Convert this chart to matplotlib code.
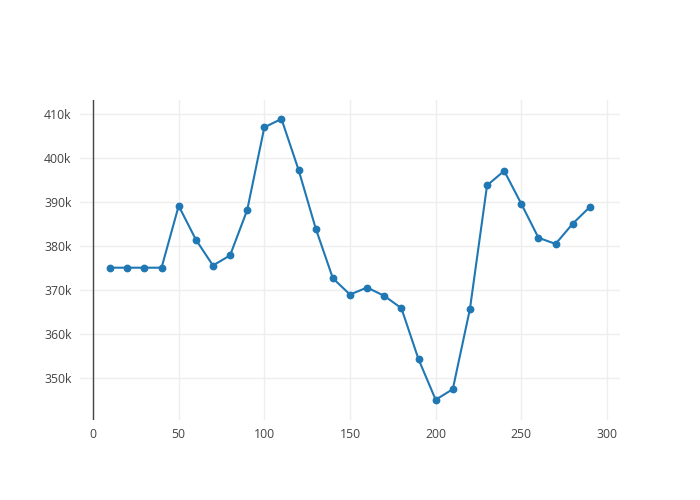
import numpy as np
import matplotlib.pyplot as plt
from matplotlib.ticker import FuncFormatter

plt.rcParams['font.family'] = ['Open Sans', 'DejaVu Sans']

x = [10, 20, 30, 40, 50, 60, 70, 80, 90, 100, 110, 120, 130, 140, 150,
     160, 170, 180, 190, 200, 210, 220, 230, 240, 250, 260, 270, 280, 290]
y = [375.1, 375.1, 375.1, 375.1, 389.15, 381.5, 375.6, 377.9, 388.2, 407.0,
     408.9, 397.3, 384.0, 372.7, 369.0, 370.6, 368.7, 365.9, 354.3, 345.1,
     347.5, 365.7, 393.8, 397.1, 389.6, 381.9, 380.5, 385.1, 388.9]
y = np.array(y) * 1000

fig = plt.figure(figsize=(7, 5), dpi=100)
ax = fig.add_axes([80 / 700, 80 / 500, 540 / 700, 320 / 500])

# plotly sizes are in px -> convert to points (72/100)
ax.plot(x, y, color='#1f77b4', linewidth=1.5, marker='o', markersize=4.6,
        zorder=3, clip_on=False)

ax.set_xlim(-7.6, 307.6)
ax.set_ylim(340500, 413200)
ax.set_xticks([0, 50, 100, 150, 200, 250, 300])
ax.set_yticks([350000, 360000, 370000, 380000, 390000, 400000, 410000])
ax.yaxis.set_major_formatter(FuncFormatter(lambda v, p: f"{int(v / 1000)}k"))

ax.grid(True, color='#eeeeee', linewidth=1)
ax.set_axisbelow(True)
ax.axvline(0, color='#444444', linewidth=1, zorder=2)
for s in ax.spines.values():
    s.set_visible(False)
ax.tick_params(length=0, labelsize=8.8, labelcolor='#444444', pad=6)

fig.savefig('out.png', dpi=100)
